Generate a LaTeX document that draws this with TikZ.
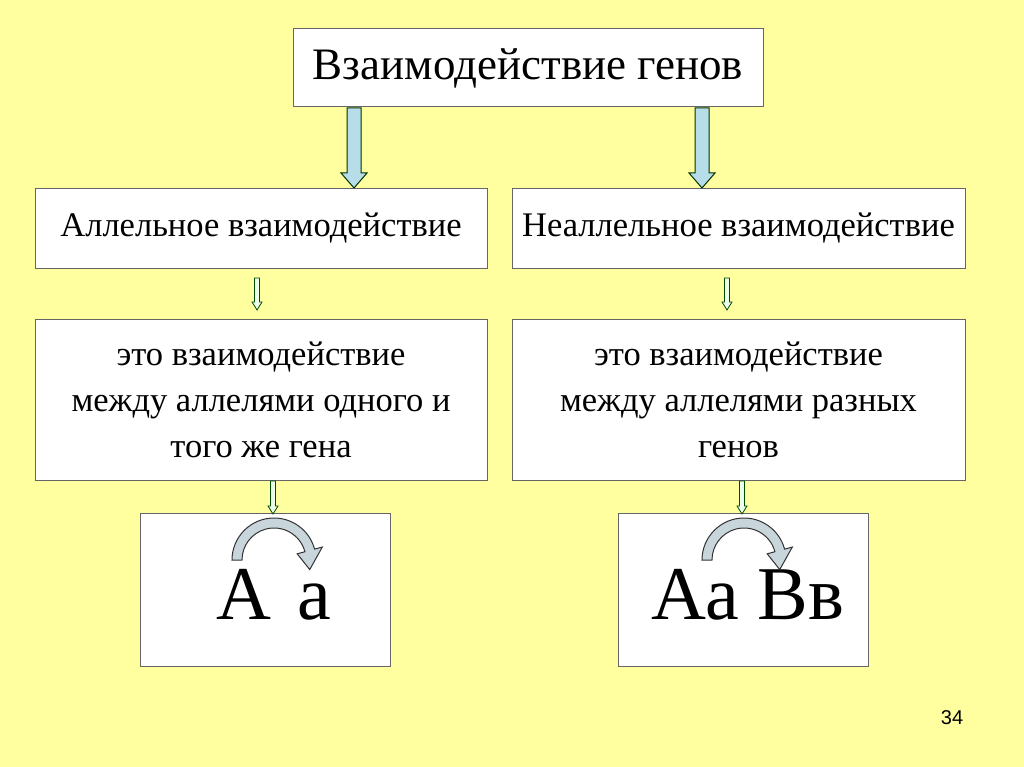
\documentclass[tikz,border=0pt]{standalone}
\usepackage{fontspec}
\usetikzlibrary{calc}
\setmainfont{Liberation Serif}
\newfontfamily\numfont{Liberation Sans}
\definecolor{arrblue}{RGB}{183,221,232}
\begin{document}
\begin{tikzpicture}[x=1pt,y=-1pt,
  box/.style={draw=black!60,fill=white,line width=1pt,inner sep=0pt},
  bigarr/.style={draw=black!80!green,fill=arrblue,line width=1pt},
  smallarr/.style={draw=black!70!green,fill=green!8,line width=0.8pt},
  curv/.style={draw=black!80,fill=cyan!25!gray!40,line width=1pt}]
\useasboundingbox[fill={rgb,255:red,255;green,255;blue,160}] (0,0) rectangle (1024,767);
\node[box,minimum width=470,minimum height=78,font=\fontsize{45}{50}\selectfont] (top) at (528,68) {Взаимодействие генов};
\node[box,minimum width=452,minimum height=79,font=\fontsize{34.5}{40}\selectfont] (al) at (261,228.5) {Аллельное взаимодействие};
\node[box,minimum width=453,minimum height=79,font=\fontsize{34.5}{40}\selectfont] (nal) at (738.5,228.5) {Неаллельное взаимодействие};
\node[box,minimum width=452,minimum height=161,align=center,font=\fontsize{34.5}{46}\selectfont] (ald) at (261,399.5) {это взаимодействие\\ между аллелями одного и\\ того же гена};
\node[box,minimum width=453,minimum height=161,align=center,font=\fontsize{34.5}{46}\selectfont] (nald) at (738.5,399.5) {это взаимодействие\\ между аллелями разных\\ генов};
\node[box,minimum width=250,minimum height=153] (ex1) at (265,589.5) {};
\node[box,minimum width=250,minimum height=153] (ex2) at (743,589.5) {};
\node[font=\fontsize{76}{80}\selectfont] (t1) at (274,595) {А\hspace{0.35em}а};
\node[font=\fontsize{76}{80}\selectfont] (t2) at (748,595) {Аа Вв};
\node[font=\numfont\fontsize{20}{24}\selectfont] (pg) at (952,718) {34};
% big arrows
\foreach \xx in {354,702}{
 \draw[bigarr] (\xx-7,108) -- (\xx+7,108) -- (\xx+7,173) -- (\xx+13,173) -- (\xx,188) -- (\xx-13,173) -- (\xx-7,173) -- cycle;}
% small arrows
\foreach \xx/\ya/\yb in {257/278/310,727/278/310,273/481/514,742/481/514}{
 \draw[smallarr] (\xx-2.5,\ya) -- (\xx+2.5,\ya) -- (\xx+2.5,\yb-8) -- (\xx+5,\yb-8) -- (\xx,\yb) -- (\xx-5,\yb-8) -- (\xx-2.5,\yb-8) -- cycle;}
% curved arrows
\foreach \cx/\cy in {274/560,744/560}{
 \draw[curv] (\cx-42,\cy) arc[start angle=180,end angle=345,radius=42]
   -- ($(\cx,\cy)+(345:50)$) -- ($(\cx,\cy)+(15:37)$) -- ($(\cx,\cy)+(345:24)$)
   -- ($(\cx,\cy)+(345:32)$) arc[start angle=345,end angle=180,radius=32] -- cycle;}
\end{tikzpicture}
\end{document}
